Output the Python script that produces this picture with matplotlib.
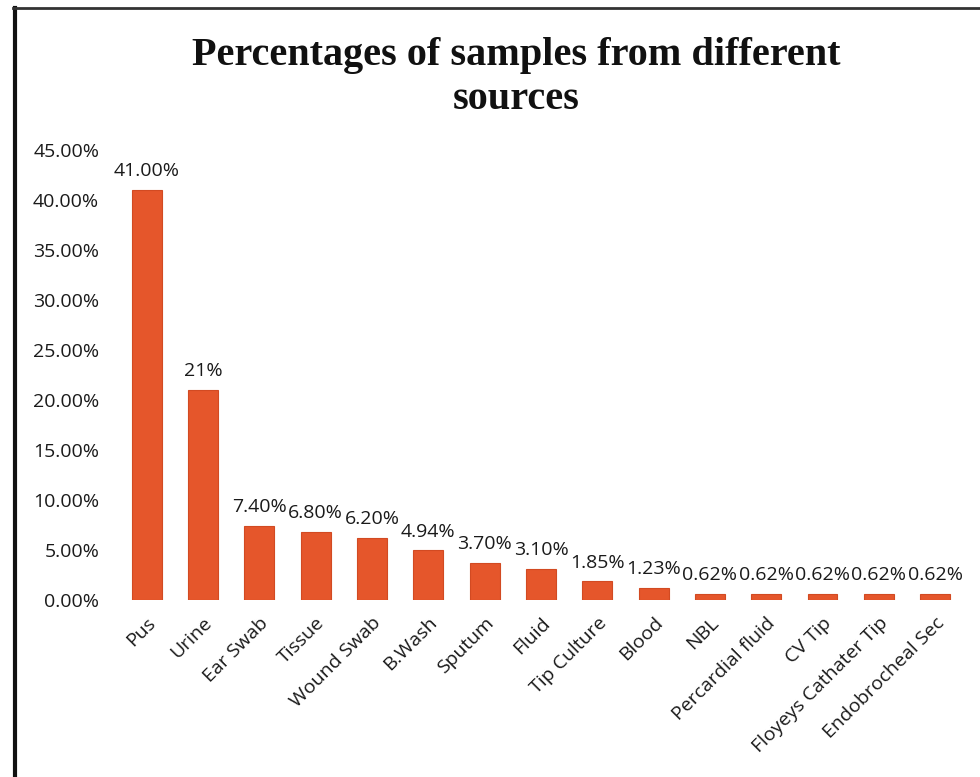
import matplotlib
matplotlib.use('Agg')
import matplotlib.pyplot as plt
import matplotlib.ticker as ticker
from matplotlib.lines import Line2D

# Sample sources and their share (%)
sources = ['Pus', 'Urine', 'Ear Swab', 'Tissue', 'Wound Swab', 'B.Wash', 'Sputum',
           'Fluid', 'Tip Culture', 'Blood', 'NBL', 'Percardial fluid', 'CV Tip',
           'Floyeys Cathater Tip', 'Endobrocheal Sec']
percent = [41.00, 21.0, 7.40, 6.80, 6.20, 4.94, 3.70, 3.10, 1.85, 1.23,
           0.62, 0.62, 0.62, 0.62, 0.62]
bar_labels = ['41.00%', '21%', '7.40%', '6.80%', '6.20%', '4.94%', '3.70%', '3.10%',
              '1.85%', '1.23%', '0.62%', '0.62%', '0.62%', '0.62%', '0.62%']
y_ticks = [0, 5, 10, 15, 20, 25, 30, 35, 40, 45]

plt.rcParams['font.family'] = ['Open Sans', 'DejaVu Sans']

fig = plt.figure(figsize=(9.8, 7.77), dpi=100)
ax = fig.add_axes([0.121, 0.228, 0.862, 0.579])

x = range(len(sources))
bars = ax.bar(x, percent, width=0.53, color='#E5562B', edgecolor='#D24A22', linewidth=0.8)

for b, lab in zip(bars, bar_labels):
    ax.annotate(lab, (b.get_x() + b.get_width() / 2, b.get_height()),
                xytext=(0, 7), textcoords='offset points',
                ha='center', va='bottom', fontsize=14, color='#1a1a1a')

ax.set_xlim(-0.5, len(sources) - 0.5)
ax.set_ylim(0, 45)
ax.set_yticks(y_ticks)
ax.yaxis.set_major_formatter(ticker.FuncFormatter(lambda v, p: f'{v:.2f}%'))
ax.set_xticks(list(x))
ax.set_xticklabels(sources, rotation=45, ha='right', rotation_mode='anchor')
ax.tick_params(axis='both', length=0, labelsize=14, colors='#1a1a1a')
ax.tick_params(axis='y', pad=14)
ax.tick_params(axis='x', pad=10)
for s in ax.spines.values():
    s.set_visible(False)

fig.text(0.527, 0.953, 'Percentages of samples from different\nsources',
         ha='center', va='top', fontsize=29, fontweight='bold',
         family='Liberation Serif', linespacing=1.25, color='#111111')

# scanned frame edges
fig.add_artist(Line2D([0.015, 0.015], [0.0, 0.99], color='#111111', lw=3))
fig.add_artist(Line2D([0.013, 1.0], [0.99, 0.99], color='#333333', lw=2))

fig.savefig('out.png', dpi=100, facecolor='white')
